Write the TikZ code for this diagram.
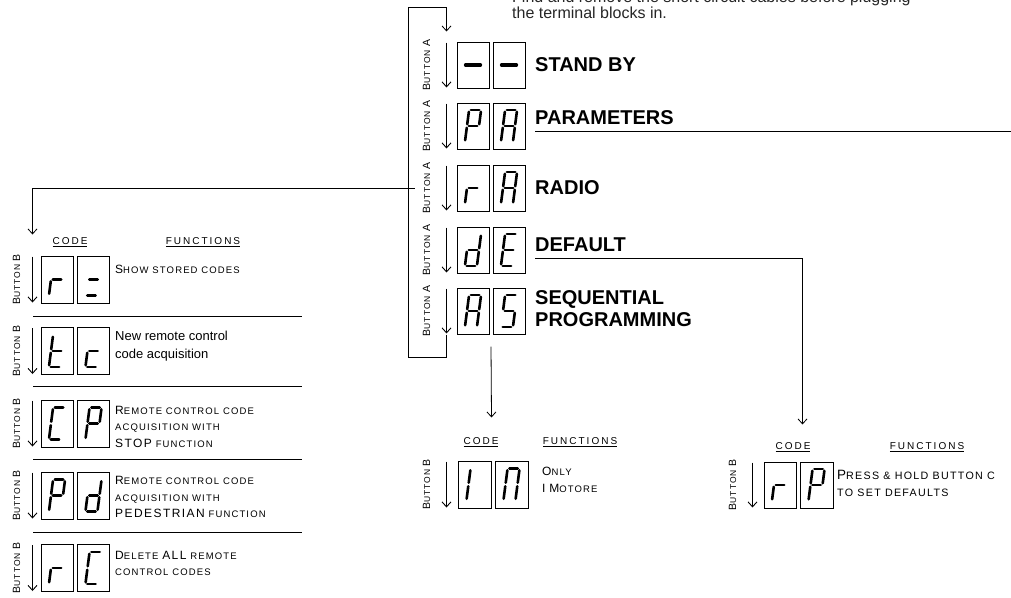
\documentclass[tikz,border=0pt]{standalone}
\usepackage{fontspec}
\setmainfont{Liberation Sans}
\newfontfamily\scfont[LetterSpace=12]{Liberation Sans}
\newfontfamily\hdfont[LetterSpace=20]{Liberation Sans}
\usetikzlibrary{positioning,arrows.meta}

% larger capitals inside the small-caps texts
\newcommand{\up}[1]{{\fontsize{12}{12}\selectfont #1}}
\newcommand{\ub}[1]{{\fontsize{10.5}{10.5}\selectfont #1}}
\newcommand{\uc}[1]{{\fontsize{13.5}{13.5}\selectfont #1}}

% segments of a display digit
\def\sga{(-6,-16) -- (6,-16)}
\def\sgb{(6,-16) -- (6,0)}
\def\sgc{(6,0) -- (6,16)}
\def\sgd{(-6,16) -- (6,16)}
\def\sge{(-6,0) -- (-6,16)}
\def\sgf{(-6,-16) -- (-6,0)}
\def\sgg{(-6,0) -- (6,0)}
\newcommand{\segdigit}[2]{%
  \begin{scope}[shift={(#1.center)},xslant=0.13]
    \foreach \s in {#2} {\draw[segline] \csname sg\s\endcsname;}
  \end{scope}}

\tikzset{
  dispbox/.style={draw, line width=1pt, minimum width=32pt, minimum height=46pt, inner sep=0pt},
  segline/.style={line width=2.6pt, line cap=round, shorten <=1.8pt, shorten >=1.8pt},
  btnarrow/.style={line width=0.9pt, -{Straight Barb[length=5pt,width=9pt]}},
  flow/.style={line width=0.8pt},
  rule/.style={line width=1pt},
  menutext/.style={font=\fontsize{20}{22}\selectfont\bfseries, anchor=west, align=left, inner sep=0pt},
  btnlabel/.style={font=\scfont\fontsize{8.5}{9}\selectfont, rotate=90, inner sep=0pt},
  fntext/.style={font=\scfont\fontsize{9.5}{16.5}\selectfont, anchor=west, align=left, inner sep=0pt},
  header/.style={font=\hdfont\fontsize{10}{10}\selectfont, inner sep=0pt},
  notetext/.style={anchor=base west, inner sep=0pt, font=\fontsize{16}{16}\selectfont, text=black!85},
}

\begin{document}
\begin{tikzpicture}[x=1pt,y=-1pt]
  \useasboundingbox (0,0) rectangle (1011,597);

  % note at the top
  \node[notetext] (note1) at (512,2) {Find and remove the short circuit cables before plugging};
  \node[notetext] (note2) at (512,18) {the terminal blocks in.};

  % menu with button A
  \node[dispbox] (sb1) at (473,65) {};
  \node[dispbox, right=3pt of sb1] (sb2) {};
  \node[dispbox] (pa1) at (473,126) {};
  \node[dispbox, right=3pt of pa1] (pa2) {};
  \node[dispbox] (ra1) at (473,188) {};
  \node[dispbox, right=3pt of ra1] (ra2) {};
  \node[dispbox] (de1) at (473,250) {};
  \node[dispbox, right=3pt of de1] (de2) {};
  \node[dispbox] (as1) at (473,311) {};
  \node[dispbox, right=3pt of as1] (as2) {};

  \draw[segline, line width=4pt] ([xshift=-9pt]sb1.center) -- ([xshift=9pt]sb1.center);
  \draw[segline, line width=4pt] ([xshift=-9pt]sb2.center) -- ([xshift=9pt]sb2.center);
  \segdigit{pa1}{a,b,e,f,g}
  \segdigit{pa2}{a,b,c,e,f,g}
  \segdigit{ra1}{e,g}
  \segdigit{ra2}{a,b,c,e,f,g}
  \segdigit{de1}{b,c,d,e,g}
  \segdigit{de2}{a,d,e,f,g}
  \segdigit{as1}{a,b,c,e,f,g}
  \segdigit{as2}{a,f,g,c,d}

  \foreach \n in {sb,pa,ra,de,as} {
    \draw[btnarrow] ([xshift=-10pt,yshift=-1pt]\n1.north west) -- ([xshift=-10pt,yshift=1pt]\n1.south west);
    \node[btnlabel] at ([xshift=-30pt]\n1.west) {\ub{B}UTTON \ub{A}};
  }

  \node[menutext] (sbtxt) at (535,65) {STAND BY};
  \node[menutext] (patxt) at (535,118) {PARAMETERS};
  \node[menutext] (ratxt) at (535,188) {RADIO};
  \node[menutext] (detxt) at (535,245) {DEFAULT};
  \node[menutext] (astxt) at (535,309) {SEQUENTIAL\\PROGRAMMING};

  % loop back to stand by
  \coordinate (loopB) at (408,357);
  \coordinate (loopT) at (408,7);
  \draw[flow] ([xshift=-10pt]as1.south west) |- (loopB) -- (loopT);
  \draw[btnarrow, line width=0.8pt] (loopT) -| ([xshift=-10pt,yshift=10pt]sb1.north west);

  % radio codes with button B
  \node[header] (rcode) at (70,242) {\underline{CODE}};
  \node[header] (rfunc) at (203,242) {\underline{FUNCTIONS}};

  \node[dispbox, minimum height=47pt] (rs1) at (57,279.5) {};
  \node[dispbox, minimum height=47pt, right=3.5pt of rs1] (rs2) {};
  \node[dispbox, minimum height=47pt] (tc1) at (57,351) {};
  \node[dispbox, minimum height=47pt, right=3.5pt of tc1] (tc2) {};
  \node[dispbox, minimum height=47pt] (cp1) at (57,423.5) {};
  \node[dispbox, minimum height=47pt, right=3.5pt of cp1] (cp2) {};
  \node[dispbox, minimum height=47pt] (pd1) at (57,495.5) {};
  \node[dispbox, minimum height=47pt, right=3.5pt of pd1] (pd2) {};
  \node[dispbox, minimum height=47pt] (rc1) at (57,568) {};
  \node[dispbox, minimum height=47pt, right=3.5pt of rc1] (rc2) {};

  \segdigit{rs1}{e,g}
  \segdigit{rs2}{g,d}
  \segdigit{tc1}{d,e,f,g}
  \segdigit{tc2}{d,e,g}
  \segdigit{cp1}{a,d,e,f}
  \segdigit{cp2}{a,b,e,f,g}
  \segdigit{pd1}{a,b,e,f,g}
  \segdigit{pd2}{b,c,d,e,g}
  \segdigit{rc1}{e,g}
  \segdigit{rc2}{a,d,e,f}

  \foreach \n in {rs,tc,cp,pd,rc} {
    \draw[btnarrow] ([xshift=-8pt,yshift=-1pt]\n1.north west) -- ([xshift=-8pt,yshift=1pt]\n1.south west);
    \node[btnlabel] at ([xshift=-24pt]\n1.west) {\ub{B}UTTON \ub{B}};
  }
  \foreach \y in {316,386,459,532}
    \draw[rule] (33,\y) -- (302,\y);

  \node[fntext] (rstxt) at (115,269) {\up{S}HOW STORED CODES};
  \node[anchor=west, align=left, inner sep=0pt, font=\fontsize{13}{18}\selectfont] (tctxt) at (115,346) {New remote control\\code acquisition};
  \node[fntext] (cptxt) at (115,426.5) {\up{R}EMOTE CONTROL CODE\\ACQUISITION WITH\\\up{STOP} FUNCTION};
  \node[fntext] (pdtxt) at (115,497) {\up{R}EMOTE CONTROL CODE\\ACQUISITION WITH\\\up{PEDESTRIAN} FUNCTION};
  \node[fntext] (rctxt) at (115,563.5) {\up{D}ELETE \up{ALL} REMOTE\\CONTROL CODES};

  % sequential programming
  \node[header] (icode) at (481,442) {\underline{CODE}};
  \node[header] (ifunc) at (580,442) {\underline{FUNCTIONS}};
  \node[dispbox, minimum width=33pt, minimum height=47pt] (im1) at (474.5,484.5) {};
  \node[dispbox, minimum width=33pt, minimum height=47pt, right=3pt of im1] (im2) {};
  \segdigit{im1}{e,f}
  \segdigit{im2}{a,b,c,e,f}
  \draw[btnarrow] ([xshift=-11pt,yshift=-1pt]im1.north west) -- ([xshift=-11pt,yshift=1pt]im1.south west);
  \node[btnlabel] at ([xshift=-31pt]im1.west) {\ub{B}UTTON \ub{B}};
  \node[fntext] (imtxt) at (542,480) {\up{O}NLY\\\up{I} \up{M}OTORE};

  % default
  \node[header] (dcode) at (793,447) {\underline{CODE}};
  \node[header] (dfunc) at (927,447) {\underline{FUNCTIONS}};
  \node[dispbox, minimum height=46pt] (rp1) at (780,485) {};
  \node[dispbox, minimum width=33pt, minimum height=46pt, right=3pt of rp1] (rp2) {};
  \segdigit{rp1}{e,g}
  \segdigit{rp2}{a,b,e,f,g}
  \draw[btnarrow] ([xshift=-11pt,yshift=-1pt]rp1.north west) -- ([xshift=-11pt,yshift=1pt]rp1.south west);
  \node[btnlabel] at ([xshift=-31pt]rp1.west) {\ub{B}UTTON \ub{B}};
  \node[fntext, font=\scfont\fontsize{10.7}{17}\selectfont] (rptxt) at (837,483.5) {\uc{P}RESS \& HOLD BUTTON C\\TO SET DEFAULTS};

  % branches
  \draw[flow] ([yshift=-6pt]patxt.south west) -- ++(476,0);
  \draw[btnarrow, line width=0.8pt] ([yshift=-6pt]detxt.south west) -| ([xshift=3pt,yshift=37pt]rp2.north west);
  \draw[btnarrow, line width=0.8pt] ([xshift=-42pt]ra1.west) -| ([xshift=-8pt,yshift=21pt]rs1.north west);
  \draw[btnarrow, line width=0.8pt] ([xshift=1.5pt,yshift=-12pt]as1.south east) -- ([yshift=43pt]im1.north east);
\end{tikzpicture}
\end{document}
